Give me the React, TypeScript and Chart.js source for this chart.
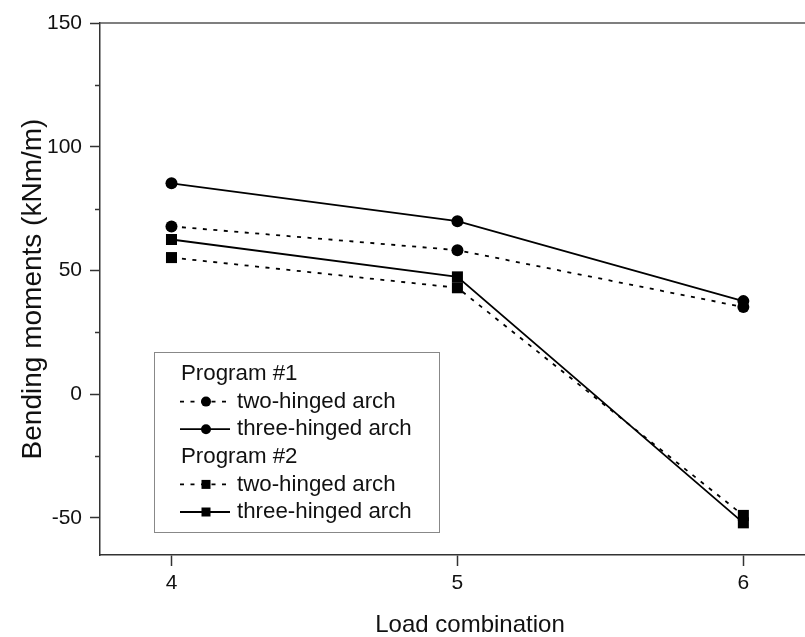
import React, { useEffect, useRef } from 'react';
import { Chart, registerables } from 'chart.js';

Chart.register(...registerables);

// ---- data ----
const loadCombinations = [4, 5, 6];
const p1TwoHinged = [67.8, 58.2, 35.2];
const p1ThreeHinged = [85.2, 69.9, 37.6];
const p2TwoHinged = [55.2, 43.0, -49.0];
const p2ThreeHinged = [62.5, 47.4, -52.0];

const xTickValues = [4, 5, 6];
const yMajorTicks = [-50, 0, 50, 100, 150];
const yMinorTicks = [-25, 25, 75, 125];

const legendGroups = ['Program #1', 'Program #2'];
const seriesNames = ['two-hinged arch', 'three-hinged arch'];

const xTitle = 'Load combination';
const yTitle = 'Bending moments (kNm/m)';

const FONT = '"Liberation Sans", Arial, Helvetica, sans-serif';
const DOTTED = [4, 6.5];
const CANVAS_W = 840;
const CANVAS_H = 637;

function toPoints(values: number[]) {
  return loadCombinations.map((x, i) => ({ x, y: values[i] }));
}

function drawMarker(ctx: CanvasRenderingContext2D, style: string, x: number, y: number, size: number) {
  ctx.save();
  ctx.setLineDash([]);
  ctx.fillStyle = '#000';
  ctx.beginPath();
  if (style === 'circle') {
    ctx.arc(x, y, size, 0, Math.PI * 2);
  } else {
    ctx.rect(x - size, y - size, size * 2, size * 2);
  }
  ctx.fill();
  ctx.restore();
}

const framePlugin = {
  id: 'frameAndLegend',
  afterDraw(chart: any) {
    const { ctx, chartArea, scales } = chart;
    const yScale = scales.y;
    ctx.save();
    // top frame line
    ctx.strokeStyle = '#555';
    ctx.lineWidth = 1.5;
    ctx.beginPath();
    ctx.moveTo(chartArea.left, chartArea.top);
    ctx.lineTo(chartArea.right, chartArea.top);
    ctx.stroke();
    // minor y ticks
    ctx.strokeStyle = '#333';
    ctx.lineWidth = 1.5;
    yMinorTicks.forEach((v) => {
      const py = Math.round(yScale.getPixelForValue(v)) + 0.5;
      ctx.beginPath();
      ctx.moveTo(chartArea.left - 5, py);
      ctx.lineTo(chartArea.left, py);
      ctx.stroke();
    });

    // legend
    const boxX = 154.5;
    const boxY = 352.5;
    const boxW = 285;
    const boxH = 180;
    ctx.fillStyle = '#fff';
    ctx.fillRect(boxX, boxY, boxW, boxH);
    ctx.strokeStyle = '#888';
    ctx.lineWidth = 1;
    ctx.strokeRect(boxX, boxY, boxW, boxH);

    ctx.font = `22.3px ${FONT}`;
    ctx.textBaseline = 'middle';
    ctx.textAlign = 'left';
    ctx.fillStyle = '#111';
    const rowStart = 374;
    const step = 27.6;
    let row = 0;
    const datasets = chart.data.datasets;
    legendGroups.forEach((group, g) => {
      const y0 = rowStart + row * step;
      ctx.fillStyle = '#111';
      ctx.fillText(group, 181, y0);
      row++;
      seriesNames.forEach((name, s) => {
        const ds = datasets[g * 2 + s];
        const y = rowStart + row * step;
        ctx.save();
        ctx.strokeStyle = '#000';
        ctx.lineWidth = 1.8;
        ctx.setLineDash(ds.borderDash || []);
        ctx.beginPath();
        ctx.moveTo(180, y);
        ctx.lineTo(230, y);
        ctx.stroke();
        ctx.restore();
        drawMarker(ctx, ds.pointStyle, 206, y, ds.pointStyle === 'circle' ? 5 : 4.5);
        ctx.fillStyle = '#111';
        ctx.fillText(name, 237, y);
        row++;
      });
    });
    ctx.restore();
  },
};

export default function App() {
  const canvasRef = useRef<HTMLCanvasElement | null>(null);

  useEffect(() => {
    const canvas = canvasRef.current;
    if (!canvas) return;
    const common = {
      borderColor: '#000',
      backgroundColor: '#000',
      pointBackgroundColor: '#000',
      pointBorderColor: '#000',
      pointBorderWidth: 0,
      borderWidth: 1.8,
      tension: 0,
      fill: false,
    };
    const chart = new Chart(canvas, {
      type: 'line',
      data: {
        datasets: [
          { ...common, label: `${legendGroups[0]} ${seriesNames[0]}`, data: toPoints(p1TwoHinged), borderDash: DOTTED, pointStyle: 'circle', pointRadius: 6 },
          { ...common, label: `${legendGroups[0]} ${seriesNames[1]}`, data: toPoints(p1ThreeHinged), borderDash: [], pointStyle: 'circle', pointRadius: 6 },
          { ...common, label: `${legendGroups[1]} ${seriesNames[0]}`, data: toPoints(p2TwoHinged), borderDash: DOTTED, pointStyle: 'rect', pointRadius: 7.8 },
          { ...common, label: `${legendGroups[1]} ${seriesNames[1]}`, data: toPoints(p2ThreeHinged), borderDash: [], pointStyle: 'rect', pointRadius: 7.8 },
        ] as any,
      },
      options: {
        animation: false,
        responsive: false,
        maintainAspectRatio: false,
        devicePixelRatio: 1,
        layout: { autoPadding: false, padding: { left: 0, top: 23, right: 0, bottom: 0 } },
        plugins: { legend: { display: false }, tooltip: { enabled: false } },
        scales: {
          x: {
            type: 'linear',
            min: 3.75,
            max: 6.338,
            afterBuildTicks: (s: any) => {
              s.ticks = xTickValues.map((value) => ({ value }));
            },
            afterFit: (s: any) => {
              s.height = 82;
              s.paddingLeft = 0;
              s.paddingRight = 0;
            },
            grid: { drawOnChartArea: false, drawTicks: true, tickLength: 11, tickColor: '#333', tickWidth: 1.5 },
            border: { display: true, color: '#333', width: 1.5 },
            ticks: { font: { family: FONT, size: 21 }, color: '#111', padding: 5, maxRotation: 0, autoSkip: false },
            title: { display: true, text: xTitle, color: '#111', font: { family: FONT, size: 24, lineHeight: 1 }, padding: { top: 0, bottom: 0 } },
          },
          y: {
            type: 'linear',
            min: -65,
            max: 150,
            afterBuildTicks: (s: any) => {
              s.ticks = yMajorTicks.map((value) => ({ value }));
            },
            afterFit: (s: any) => {
              s.width = 100;
              s.paddingTop = 0;
              s.paddingBottom = 0;
            },
            grid: { drawOnChartArea: false, drawTicks: true, tickLength: 10, tickColor: '#333', tickWidth: 1.5 },
            border: { display: true, color: '#333', width: 1.5 },
            ticks: { font: { family: FONT, size: 21 }, color: '#111', padding: 8, autoSkip: false },
            title: { display: true, text: yTitle, color: '#111', font: { family: FONT, size: 28, lineHeight: 1 }, padding: { top: 19, bottom: 0 } },
          },
        },
      } as any,
      plugins: [framePlugin],
    });
    return () => chart.destroy();
  }, []);

  return (
    <div style={{ position: 'fixed', left: 0, top: 0, width: CANVAS_W, height: CANVAS_H, background: '#fff', overflow: 'hidden' }}>
      <canvas ref={canvasRef} width={CANVAS_W} height={CANVAS_H} style={{ display: 'block', width: CANVAS_W, height: CANVAS_H }} />
    </div>
  );
}
